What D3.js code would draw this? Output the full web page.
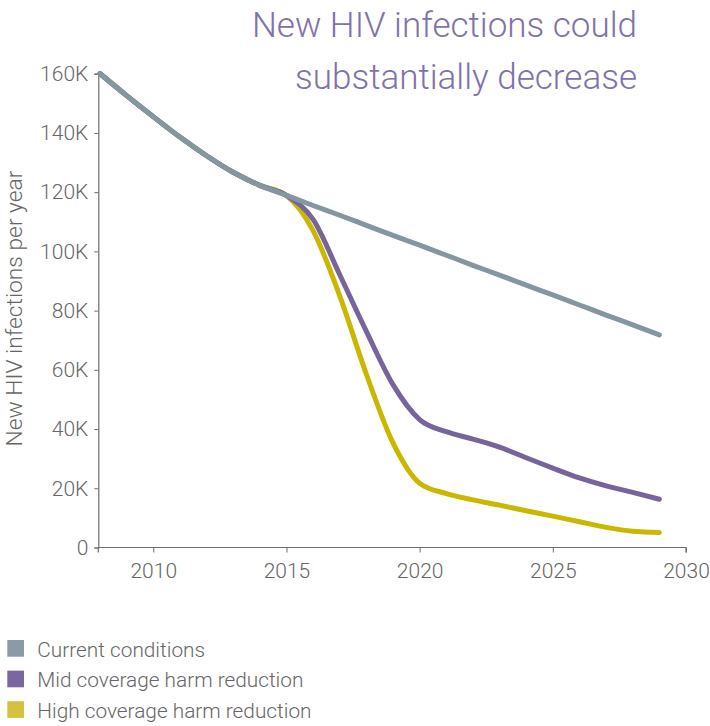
<!DOCTYPE html>
<html>
<head>
<meta charset="utf-8">
<script src="https://cdn.jsdelivr.net/npm/d3@7"></script>
<style>
  body { margin: 0; background: #ffffff; }
  svg { display: block; }
  text { font-family: Roboto, "Liberation Sans", sans-serif; font-weight: 300; }
</style>
</head>
<body>
<svg id="chart" width="710" height="726"></svg>
<script>
// ---- data ----
const years = [2008, 2009, 2010, 2011, 2012, 2013, 2014, 2015, 2016, 2017, 2018,
               2019, 2020, 2021, 2022, 2023, 2024, 2025, 2026, 2027, 2028, 2029];
const currentConditions = [160000, 152600, 145500, 138600, 132300, 126700, 122300, 118900,
                           115500, 112200, 108800, 105400, 102100, 98700, 95300, 92000,
                           88600, 85300, 81900, 78500, 75200, 71800];
const midCoverage = [160000, 152600, 145500, 138600, 132300, 126700, 122300, 118900,
                     110800, 92100, 73000, 55000, 43200, 39100, 36600, 33900,
                     30300, 26800, 23500, 20800, 18600, 16300];
const highCoverage = [160000, 152600, 145500, 138600, 132300, 126700, 122300, 118900,
                      107000, 85000, 58500, 35300, 21700, 18200, 16100, 14300,
                      12400, 10600, 8700, 6800, 5500, 5100];
const seriesNames = ["Current conditions", "Mid coverage harm reduction", "High coverage harm reduction"];
const xTickValues = [2010, 2015, 2020, 2025, 2030];
const yTickValues = [0, 20000, 40000, 60000, 80000, 100000, 120000, 140000, 160000];
const titleLines = ["New HIV infections could", "substantially decrease"];
const yAxisLabel = "New HIV infections per year";

// ---- styles ----
const lineColors = ["#8497a1", "#76649b", "#c9b700"];
const swatchColors = ["#8a9ba6", "#7a67a0", "#d4c23e"];
const axisColor = "#6e6e6e";
const textColor = "#666666";

const svg = d3.select("#chart");

const x = d3.scaleLinear().domain([2008, 2030]).range([100, 686]);
const y = d3.scaleLinear().domain([0, 160000]).range([547.5, 73.7]);

// title
svg.append("text")
  .attr("text-anchor", "end")
  .attr("fill", "#8072aa")
  .style("font-size", "35px")
  .selectAll("tspan")
  .data(titleLines)
  .join("tspan")
  .attr("x", 637)
  .attr("y", (d, i) => 37.3 + i * 52)
  .text(d => d);

// x axis
const xAxis = svg.append("g")
  .attr("transform", "translate(0,547.5)")
  .call(d3.axisBottom(x).tickValues(xTickValues).tickFormat(d3.format("d"))
        .tickSize(5).tickSizeOuter(5).tickPadding(11));
// extend x domain line to meet the y axis
xAxis.select(".domain").attr("d", `M98.3,5V0H${x(2030)}V5`);

// y axis
const yAxis = svg.append("g")
  .attr("transform", "translate(98.3,0)")
  .call(d3.axisLeft(y).tickValues(yTickValues)
        .tickFormat(d => d === 0 ? "0" : d3.format("d")(d / 1000) + "K")
        .tickSize(4).tickSizeOuter(4).tickPadding(6));

[xAxis, yAxis].forEach(g => {
  g.select(".domain").attr("stroke", axisColor).attr("stroke-width", 1.2);
  g.selectAll(".tick line").attr("stroke", axisColor).attr("stroke-width", 1);
  g.selectAll(".tick text").attr("fill", textColor).style("font-size", "21px");
});

// y axis label
svg.append("text")
  .attr("transform", "translate(22,308.5) rotate(-90)")
  .attr("text-anchor", "middle")
  .attr("fill", textColor)
  .style("font-size", "22.8px")
  .text(yAxisLabel);

// lines
const series = [currentConditions, midCoverage, highCoverage];
const line = d3.line()
  .x((d, i) => x(years[i]))
  .y(d => y(d))
  .curve(d3.curveMonotoneX);

const drawOrder = [2, 1, 0];
svg.append("g")
  .selectAll("path")
  .data(drawOrder)
  .join("path")
  .attr("d", k => line(series[k]))
  .attr("fill", "none")
  .attr("stroke", k => lineColors[k])
  .attr("stroke-width", 5)
  .attr("stroke-linecap", "round")
  .attr("stroke-linejoin", "round");

// legend
const legend = svg.append("g")
  .selectAll("g")
  .data(seriesNames)
  .join("g")
  .attr("transform", (d, i) => `translate(7.3,${640 + i * 30.6})`);

legend.append("rect")
  .attr("width", 16.7)
  .attr("height", 16.7)
  .attr("fill", (d, i) => swatchColors[i]);

legend.append("text")
  .attr("x", 30)
  .attr("y", 16.7)
  .attr("fill", textColor)
  .style("font-size", "20.8px")
  .text(d => d);
</script>
</body>
</html>
